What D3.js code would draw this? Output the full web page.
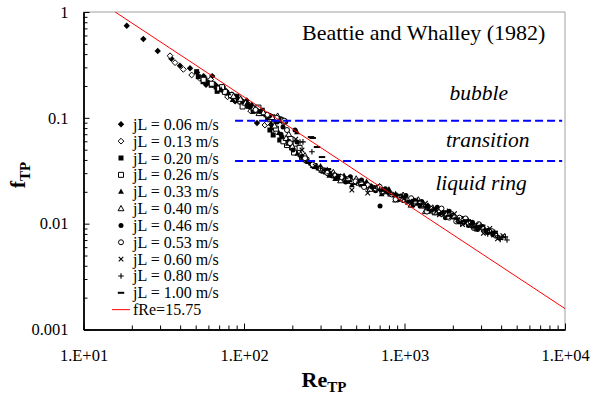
<!DOCTYPE html>
<html><head><meta charset="utf-8">
<script src="https://cdn.jsdelivr.net/npm/d3@7"></script>
<style>
body{margin:0;background:#fff}
svg{display:block}
</style>
</head><body><svg id="chart" width="591" height="394"></svg>
<script>
// Two-phase friction factor vs two-phase Reynolds number, one array per liquid velocity: [Re_TP, f_TP]
const jL006 = [[18.6,0.742],[23.6,0.556],[29.0,0.428],[35.3,0.362],[39.9,0.311],[46.1,0.294],[51.0,0.268],[56.0,0.248],[63.4,0.248],[61.0,0.224],[66.0,0.207],[71.0,0.193],[77.0,0.180],[84.0,0.166],[91.0,0.153],[99.0,0.141],[108,0.131],[116,0.122],[120.5,0.0893],[128,0.114],[58,0.205],[74,0.196],[88,0.143],[104,0.146]];
const jL013 = [[34.6,0.386],[37.2,0.332],[41.9,0.287],[47.2,0.254],[53.0,0.236],[58.0,0.225],[64.0,0.206],[69.0,0.191],[75.0,0.177],[82.0,0.163],[89.0,0.150],[96.0,0.139],[104,0.130],[112,0.124],[121,0.116],[135,0.0855],[142,0.105],[155,0.101],[166,0.097],[62,0.230],[79,0.158],[93,0.156],[110,0.116],[140,0.0900],[150,0.0760]];
const jL020 = [[50.7,0.273],[51.9,0.245],[55.6,0.2195],[57.0,0.232],[59.0,0.215],[62.5,0.203],[67.0,0.196],[72.0,0.184],[78.0,0.172],[85.0,0.160],[92.0,0.147],[100,0.137],[110,0.127],[118,0.119],[127,0.113],[137,0.107],[148,0.102],[160,0.098],[172,0.094],[145,0.0767],[152,0.0688],[167,0.0617],[235,0.0405],[262,0.0372],[290,0.0336],[322,0.0308],[360,0.0283],[395,0.0268],[68,0.178],[90,0.160],[114,0.115],[130,0.118],[158,0.093],[150,0.0810],[172,0.0650],[198,0.0520]];
const jL026 = [[56,0.229],[63,0.210],[70,0.189],[76,0.176],[83,0.164],[95,0.143],[105,0.132],[117,0.121],[129,0.111],[141,0.104],[153,0.100],[168,0.096],[178,0.092],[185.3,0.0553],[195,0.063],[210,0.057],[222,0.052],[245,0.0398],[275,0.0350],[310,0.0318],[345,0.0296],[385,0.0275],[430,0.0262],[480,0.0248],[540,0.0236],[600,0.0223],[73,0.195],[98,0.128],[123,0.125],[145,0.097],[158,0.0790],[176,0.0600],[205,0.0470],[230,0.0425]];
const jL033 = [[72,0.186],[80,0.171],[88,0.157],[98,0.143],[108,0.128],[122,0.118],[134,0.110],[146,0.104],[158,0.099],[176,0.095],[213.9,0.0734],[250,0.0385],[282,0.0345],[315,0.0312],[352,0.0291],[392,0.0278],[438,0.0259],[490,0.0246],[545,0.0240],[610,0.0222],[680,0.0212],[760,0.0199],[850,0.0188],[85,0.148],[112,0.134],[140,0.099],[148,0.0880],[165,0.0720],[188,0.0570],[215,0.0460],[248,0.0400],[330,0.0325],[370,0.0265],[420,0.0285],[470,0.0232],[580,0.0250],[720,0.0190],[800,0.0212],[900,0.0170],[300,0.0350],[340,0.0285],[400,0.0282],[450,0.0250],[520,0.0252],[640,0.0215],[760,0.0207],[880,0.0191]];
const jL040 = [[86,0.160],[102,0.138],[115,0.124],[132,0.112],[150,0.101],[170,0.0965],[190,0.070],[240,0.044],[270,0.0356],[305,0.0321],[340,0.0299],[375,0.0282],[420,0.0265],[470,0.0252],[520,0.0242],[580,0.0230],[650,0.0216],[730,0.0203],[820,0.0191],[920,0.0179],[1030,0.0168],[1150,0.0158],[1280,0.0148],[95,0.150],[124,0.110],[162,0.104],[155,0.0840],[183,0.0640],[200,0.0535],[226,0.0450],[360,0.0305],[400,0.0255],[500,0.0265],[610,0.0212],[700,0.0224],[880,0.0168],[980,0.0186],[1100,0.0150],[1220,0.0168],[1350,0.0131],[1400,0.0147],[1550,0.0127],[1700,0.0133],[1500,0.0141]];
const jL046 = [[105,0.133],[125,0.115],[145,0.105],[165,0.097],[182,0.092],[160.5,0.0913],[175,0.0818],[202,0.0496],[207.9,0.0767],[213.9,0.0591],[228,0.0430],[258,0.0376],[295,0.0330],[335,0.0302],[370,0.0286],[410,0.0270],[460,0.0278],[500,0.0250],[560,0.0237],[620,0.0226],[704,0.0147],[720,0.0210],[800,0.0196],[880,0.0185],[970,0.0174],[1080,0.0165],[1200,0.0156],[1350,0.0146],[1500,0.0137],[1700,0.0128],[170,0.0700],[190,0.0600],[430,0.0248],[540,0.0258],[660,0.0205],[760,0.0214],[920,0.0169],[1020,0.0185],[1130,0.0150],[1280,0.0162],[1420,0.0130],[1600,0.0143],[1800,0.0114],[1900,0.0131],[2000,0.0120],[2150,0.0104],[2300,0.0112],[2500,0.0096],[2650,0.0103],[2850,0.0088],[3050,0.0094],[3300,0.0086],[3550,0.0079],[1150,0.0166],[1400,0.0146],[1650,0.0124],[950,0.0183],[1250,0.0147]];
const jL053 = [[118,0.119],[140,0.107],[160,0.100],[178,0.094],[185.3,0.0767],[193.5,0.0577],[240,0.0415],[268,0.0362],[300,0.0331],[330,0.0302],[365,0.0287],[405,0.0275],[445,0.0262],[495,0.0251],[535,0.0240],[590,0.0231],[660,0.0215],[740,0.0201],[830,0.0189],[930,0.0177],[1040,0.0167],[1160,0.0158],[1300,0.0148],[1450,0.0139],[1620,0.0131],[1800,0.0123],[2000,0.0117],[2250,0.0108],[2500,0.0101],[560,0.0222],[700,0.0223],[880,0.0170],[1100,0.0174],[1380,0.0130],[1700,0.0139],[2100,0.0105],[2400,0.0112],[2700,0.0091],[2900,0.0099],[3100,0.0089],[3300,0.0083],[3500,0.0085],[3700,0.0077],[1900,0.0114],[2200,0.0114],[1550,0.0128],[1250,0.0155],[980,0.0167]];
const jL060 = [[210,0.063],[229.8,0.0496],[278,0.0349],[312,0.0320],[355,0.0288],[470,0.0208],[590,0.0195],[650,0.0220],[760,0.0201],[870,0.0186],[990,0.0172],[1120,0.0160],[1260,0.0150],[1420,0.0140],[1580,0.0131],[1760,0.0122],[1950,0.0116],[2150,0.0109],[2400,0.0101],[2650,0.0096],[2950,0.0090],[3250,0.0085],[3600,0.0078],[3950,0.0074],[1050,0.0158],[1350,0.0156],[1650,0.0121],[2050,0.0124],[2300,0.0098],[2800,0.0098],[3100,0.0081],[3400,0.0090],[3800,0.0072],[4100,0.0077]];
const jL080 = [[223.3,0.0591],[233,0.0593],[265,0.0478],[300,0.0336],[340,0.0296],[385,0.0280],[430,0.0266],[520,0.0247],[620,0.0225],[700,0.0211],[800,0.0197],[900,0.0184],[1010,0.0171],[1130,0.0161],[1270,0.0151],[1400,0.0143],[1560,0.0133],[1740,0.0124],[1930,0.0118],[2120,0.0111],[2360,0.0104],[2600,0.0099],[2880,0.0092],[3150,0.0087],[3480,0.0081],[3800,0.0077],[4100,0.0074],[4352,0.0070],[1200,0.0166],[1480,0.0131],[1850,0.0131],[2240,0.0100],[2500,0.0107],[2750,0.0089],[3000,0.0096],[3300,0.0080],[3650,0.0083],[3950,0.0071],[4250,0.0075]];
const jL100 = [[261.5,0.0658],[268,0.0645],[285,0.0530],[306.2,0.0426],[333.7,0.0328],[380,0.0270],[450,0.0252],[550,0.0232],[640,0.0218],[740,0.0204],[850,0.0189],[960,0.0177],[1080,0.0164],[1220,0.0153],[1360,0.0145],[1520,0.0136],[1700,0.0126],[1900,0.0119],[2100,0.0112],[2350,0.0106],[2620,0.0099],[2900,0.0093],[3200,0.0088],[3500,0.0082],[1150,0.0168],[1440,0.0134],[1800,0.0131],[2200,0.0103],[2480,0.0108],[2750,0.0092],[3050,0.0096],[3350,0.0082],[3650,0.0084]];

const seriesData = [jL006, jL013, jL020, jL026, jL033, jL040, jL046, jL053, jL060, jL080, jL100];
const seriesLabels = ["jL = 0.06 m/s","jL = 0.13 m/s","jL = 0.20 m/s","jL = 0.26 m/s","jL = 0.33 m/s","jL = 0.40 m/s","jL = 0.46 m/s","jL = 0.53 m/s","jL = 0.60 m/s","jL = 0.80 m/s","jL = 1.00 m/s"];
const seriesMarkers = ["diamond","diamondOpen","square","squareOpen","triangle","triangleOpen","circle","circleOpen","cross","plus","dash"];

// laminar-like correlation f * Re = 15.75
const fReConst = 15.75;
const fReLabel = "fRe=15.75";

// flow-regime boundaries (f_TP levels) and their Re extent
const regimeLevels = [0.094, 0.039];
const regimeReRange = [88, 9600];
const regimeLabels = [
  {text:"bubble", re:2900, f:0.147},
  {text:"transition", re:3300, f:0.0533},
  {text:"liquid ring", re:3000, f:0.0206}
];

const xDomain = [10, 10000];
const yDomain = [0.001, 1];
const xTickLabels = ["1.E+01","1.E+02","1.E+03","1.E+04"];
const yTickLabels = ["0.001","0.01","0.1","1"];

const FONT = '"Liberation Serif","Tinos","Times New Roman","Nimbus Roman","FreeSerif","DejaVu Serif",serif';

const svg = d3.select("#chart");
const L = 83.5, R = 565, T = 12, B = 329.5;
const x = d3.scaleLog().domain(xDomain).range([L, R]);
const y = d3.scaleLog().domain(yDomain).range([B, T]);

// frame: top and right borders in grey
svg.append("line").attr("x1",L).attr("x2",R).attr("y1",T).attr("y2",T).attr("stroke","#a0a0a0").attr("stroke-width",1);
svg.append("line").attr("x1",R).attr("x2",R).attr("y1",T).attr("y2",B).attr("stroke","#a0a0a0").attr("stroke-width",1);

// axes with inward ticks
const isDecade = v => Math.abs(Math.log10(v) - Math.round(Math.log10(v))) < 1e-9;
const xMajor = x.ticks().filter(isDecade);
const xMinor = x.ticks().filter(v => !isDecade(v));
const yMajor = y.ticks().filter(isDecade);
const yMinor = y.ticks().filter(v => !isDecade(v));

const gx = svg.append("g").attr("transform",`translate(0,${B})`);
gx.call(d3.axisBottom(x).tickValues(xMinor).tickSize(-4).tickSizeOuter(0).tickFormat(""));
gx.append("g").call(d3.axisBottom(x).tickValues(xMajor).tickSize(-6).tickSizeOuter(0).tickPadding(20)
  .tickFormat((d,i) => xTickLabels[i]));
const gy = svg.append("g").attr("transform",`translate(${L},0)`);
gy.call(d3.axisLeft(y).tickValues(yMinor).tickSize(-4).tickSizeOuter(0).tickFormat(""));
gy.append("g").call(d3.axisLeft(y).tickValues(yMajor).tickSize(-6).tickSizeOuter(0).tickPadding(15)
  .tickFormat((d,i) => yTickLabels[i]));
svg.selectAll(".domain").attr("stroke","#000").attr("stroke-width",1.4);
svg.selectAll(".tick line").attr("stroke","#000").attr("stroke-width",1);
svg.selectAll(".tick text").attr("font-size","16.5px").attr("fill","#000");

// marker shapes
function markerPath(kind){
  switch(kind){
    case "diamond": { const r=3.2; return `M0,${-r}L${r},0L0,${r}L${-r},0Z`; }
    case "diamondOpen": { const r=2.9; return `M0,${-r}L${r},0L0,${r}L${-r},0Z`; }
    case "square": case "squareOpen": { const h=2.5; return `M${-h},${-h}H${h}V${h}H${-h}Z`; }
    case "triangle": case "triangleOpen": { const r=3.1; return `M0,${-r}L${r*0.95},${r*0.7}L${-r*0.95},${r*0.7}Z`; }
    case "circle": case "circleOpen": { const r=2.5; return `M${-r},0A${r},${r} 0 1,0 ${r},0A${r},${r} 0 1,0 ${-r},0Z`; }
    case "cross": { const h=2.3; return `M${-h},${-h}L${h},${h}M${-h},${h}L${h},${-h}`; }
    case "plus": { const h=2.8; return `M${-h},0H${h}M0,${-h}V${h}`; }
    case "dash": { return `M-3.2,-1H3.2V1H-3.2Z`; }
  }
}
function styleMarker(sel, kind){
  const open = kind.endsWith("Open");
  const lineOnly = kind === "cross" || kind === "plus";
  sel.attr("d", markerPath(kind))
     .attr("fill", lineOnly ? "none" : (open ? "#fff" : "#000"))
     .attr("stroke", (open || lineOnly) ? "#000" : "none")
     .attr("stroke-width", lineOnly ? 1.1 : 1);
}

const plot = svg.append("g");
seriesData.forEach((data, i) => {
  plot.append("g").selectAll("path").data(data).join("path")
    .attr("transform", d => `translate(${x(d[0])},${y(d[1])})`)
    .call(styleMarker, seriesMarkers[i]);
});

// correlation line f = 15.75 / Re, clipped to the plot
svg.append("clipPath").attr("id","plotClip").append("rect").attr("x",L).attr("y",T).attr("width",R-L).attr("height",B-T);
const reLine = [fReConst, xDomain[1]];
svg.append("path").attr("clip-path","url(#plotClip)")
  .datum(reLine.map(re => [re, fReConst/re]))
  .attr("d", d3.line().x(d => x(d[0])).y(d => y(d[1])))
  .attr("fill","none").attr("stroke","#ff0000").attr("stroke-width",1);

// regime boundaries
regimeLevels.forEach(f => {
  svg.append("line")
    .attr("x1", x(regimeReRange[0])).attr("x2", x(regimeReRange[1]))
    .attr("y1", y(f)).attr("y2", y(f))
    .attr("stroke","#0000ff").attr("stroke-width",2).attr("stroke-dasharray","8,4");
});
regimeLabels.forEach(l => {
  svg.append("text").attr("x", x(l.re)).attr("y", y(l.f))
    .attr("text-anchor","middle").attr("font-style","italic").attr("font-size","21.5px").text(l.text);
});

// title
svg.append("text").attr("x",302).attr("y",40).attr("font-size","22px").text("Beattie and Whalley (1982)");

// legend
const lgX = 121, lgY0 = 124.3, lgStep = 16.85;
seriesLabels.forEach((lab, i) => {
  const yy = lgY0 + i*lgStep;
  svg.append("path").attr("transform",`translate(${lgX},${yy})`).call(styleMarker, seriesMarkers[i]);
  svg.append("text").attr("x",133).attr("y",yy+5.5).attr("font-size","16px").text(lab);
});
{
  const yy = lgY0 + seriesLabels.length*lgStep;
  svg.append("line").attr("x1",112).attr("x2",130).attr("y1",yy).attr("y2",yy).attr("stroke","#ff0000").attr("stroke-width",1);
  svg.append("text").attr("x",133).attr("y",yy+5.5).attr("font-size","16px").text(fReLabel);
}

// axis titles
const xt = svg.append("text").attr("x",324).attr("y",386.5).attr("text-anchor","middle")
  .attr("font-weight","bold").attr("font-size","22px");
xt.append("tspan").text("Re");
xt.append("tspan").attr("font-size","15px").attr("dy",5).text("TP");

const yt = svg.append("text").attr("transform","translate(25,175) rotate(-90)").attr("text-anchor","middle")
  .attr("font-weight","bold").attr("font-size","22px");
yt.append("tspan").text("f");
yt.append("tspan").attr("font-size","15px").attr("dy",5).text("TP");

// serif face throughout
svg.selectAll("text").style("font-family", FONT).attr("fill","#000");
svg.selectAll("g").attr("font-family", null);
</script></body></html>
